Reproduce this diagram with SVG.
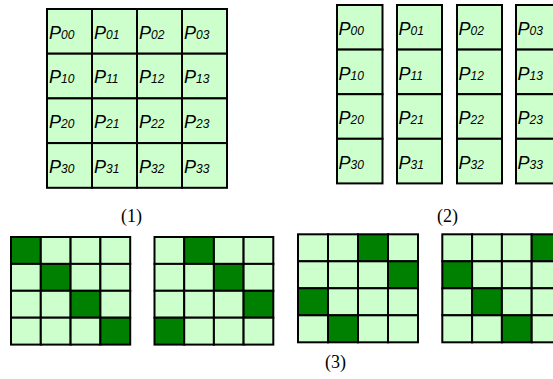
<svg xmlns="http://www.w3.org/2000/svg" width="553" height="379" viewBox="0 0 553 379">
<style>
.c{fill:#ccffcc;stroke:#000;stroke-width:2}
.d{fill:#008000;stroke:#000;stroke-width:2}
.p{font-family:"Liberation Sans",Arial,sans-serif;font-style:italic;font-size:18px;fill:#000}
.s{font-size:12px}
.l{font-family:"Liberation Serif","Times New Roman",serif;font-size:18px;fill:#000}
</style>
<rect width="553" height="379" fill="#fff"/>
<g id="grid1">
<g id="g1-00"><rect class="c" x="47" y="9" width="45" height="44.7"/><text class="p" x="49" y="38.5">P<tspan class="s">00</tspan></text></g>
<g id="g1-01"><rect class="c" x="92" y="9" width="45" height="44.7"/><text class="p" x="94" y="38.5">P<tspan class="s">01</tspan></text></g>
<g id="g1-02"><rect class="c" x="137" y="9" width="45" height="44.7"/><text class="p" x="139" y="38.5">P<tspan class="s">02</tspan></text></g>
<g id="g1-03"><rect class="c" x="182" y="9" width="45" height="44.7"/><text class="p" x="184" y="38.5">P<tspan class="s">03</tspan></text></g>
<g id="g1-10"><rect class="c" x="47" y="53.7" width="45" height="44.7"/><text class="p" x="49" y="83.2">P<tspan class="s">10</tspan></text></g>
<g id="g1-11"><rect class="c" x="92" y="53.7" width="45" height="44.7"/><text class="p" x="94" y="83.2">P<tspan class="s">11</tspan></text></g>
<g id="g1-12"><rect class="c" x="137" y="53.7" width="45" height="44.7"/><text class="p" x="139" y="83.2">P<tspan class="s">12</tspan></text></g>
<g id="g1-13"><rect class="c" x="182" y="53.7" width="45" height="44.7"/><text class="p" x="184" y="83.2">P<tspan class="s">13</tspan></text></g>
<g id="g1-20"><rect class="c" x="47" y="98.4" width="45" height="44.7"/><text class="p" x="49" y="127.9">P<tspan class="s">20</tspan></text></g>
<g id="g1-21"><rect class="c" x="92" y="98.4" width="45" height="44.7"/><text class="p" x="94" y="127.9">P<tspan class="s">21</tspan></text></g>
<g id="g1-22"><rect class="c" x="137" y="98.4" width="45" height="44.7"/><text class="p" x="139" y="127.9">P<tspan class="s">22</tspan></text></g>
<g id="g1-23"><rect class="c" x="182" y="98.4" width="45" height="44.7"/><text class="p" x="184" y="127.9">P<tspan class="s">23</tspan></text></g>
<g id="g1-30"><rect class="c" x="47" y="143.1" width="45" height="44.7"/><text class="p" x="49" y="172.6">P<tspan class="s">30</tspan></text></g>
<g id="g1-31"><rect class="c" x="92" y="143.1" width="45" height="44.7"/><text class="p" x="94" y="172.6">P<tspan class="s">31</tspan></text></g>
<g id="g1-32"><rect class="c" x="137" y="143.1" width="45" height="44.7"/><text class="p" x="139" y="172.6">P<tspan class="s">32</tspan></text></g>
<g id="g1-33"><rect class="c" x="182" y="143.1" width="45" height="44.7"/><text class="p" x="184" y="172.6">P<tspan class="s">33</tspan></text></g>
</g>
<g id="grid2">
<g id="g2-col0">
<rect class="c" x="337" y="5" width="45.5" height="44.6"/><text class="p" x="338.5" y="35">P<tspan class="s">00</tspan></text>
<rect class="c" x="337" y="49.6" width="45.5" height="44.6"/><text class="p" x="338.5" y="79.6">P<tspan class="s">10</tspan></text>
<rect class="c" x="337" y="94.2" width="45.5" height="44.6"/><text class="p" x="338.5" y="124.2">P<tspan class="s">20</tspan></text>
<rect class="c" x="337" y="138.8" width="45.5" height="44.6"/><text class="p" x="338.5" y="168.8">P<tspan class="s">30</tspan></text>
</g>
<g id="g2-col1">
<rect class="c" x="397" y="5" width="45" height="44.6"/><text class="p" x="398.5" y="35">P<tspan class="s">01</tspan></text>
<rect class="c" x="397" y="49.6" width="45" height="44.6"/><text class="p" x="398.5" y="79.6">P<tspan class="s">11</tspan></text>
<rect class="c" x="397" y="94.2" width="45" height="44.6"/><text class="p" x="398.5" y="124.2">P<tspan class="s">21</tspan></text>
<rect class="c" x="397" y="138.8" width="45" height="44.6"/><text class="p" x="398.5" y="168.8">P<tspan class="s">31</tspan></text>
</g>
<g id="g2-col2">
<rect class="c" x="457" y="5" width="45" height="44.6"/><text class="p" x="458.5" y="35">P<tspan class="s">02</tspan></text>
<rect class="c" x="457" y="49.6" width="45" height="44.6"/><text class="p" x="458.5" y="79.6">P<tspan class="s">12</tspan></text>
<rect class="c" x="457" y="94.2" width="45" height="44.6"/><text class="p" x="458.5" y="124.2">P<tspan class="s">22</tspan></text>
<rect class="c" x="457" y="138.8" width="45" height="44.6"/><text class="p" x="458.5" y="168.8">P<tspan class="s">32</tspan></text>
</g>
<g id="g2-col3">
<rect class="c" x="516" y="5" width="45" height="44.6"/><text class="p" x="517.5" y="35">P<tspan class="s">03</tspan></text>
<rect class="c" x="516" y="49.6" width="45" height="44.6"/><text class="p" x="517.5" y="79.6">P<tspan class="s">13</tspan></text>
<rect class="c" x="516" y="94.2" width="45" height="44.6"/><text class="p" x="517.5" y="124.2">P<tspan class="s">23</tspan></text>
<rect class="c" x="516" y="138.8" width="45" height="44.6"/><text class="p" x="517.5" y="168.8">P<tspan class="s">33</tspan></text>
</g>
</g>
<g id="grid3a">
<rect class="d" x="11" y="237" width="29.8" height="26.9"/><rect class="c" x="40.8" y="237" width="29.8" height="26.9"/><rect class="c" x="70.6" y="237" width="29.8" height="26.9"/><rect class="c" x="100.4" y="237" width="29.8" height="26.9"/>
<rect class="c" x="11" y="263.9" width="29.8" height="26.9"/><rect class="d" x="40.8" y="263.9" width="29.8" height="26.9"/><rect class="c" x="70.6" y="263.9" width="29.8" height="26.9"/><rect class="c" x="100.4" y="263.9" width="29.8" height="26.9"/>
<rect class="c" x="11" y="290.8" width="29.8" height="26.9"/><rect class="c" x="40.8" y="290.8" width="29.8" height="26.9"/><rect class="d" x="70.6" y="290.8" width="29.8" height="26.9"/><rect class="c" x="100.4" y="290.8" width="29.8" height="26.9"/>
<rect class="c" x="11" y="317.7" width="29.8" height="26.9"/><rect class="c" x="40.8" y="317.7" width="29.8" height="26.9"/><rect class="c" x="70.6" y="317.7" width="29.8" height="26.9"/><rect class="d" x="100.4" y="317.7" width="29.8" height="26.9"/>
</g>
<g id="grid3b">
<rect class="c" x="154.5" y="237" width="29.7" height="26.9"/><rect class="d" x="184.2" y="237" width="29.7" height="26.9"/><rect class="c" x="213.9" y="237" width="29.7" height="26.9"/><rect class="c" x="243.6" y="237" width="29.7" height="26.9"/>
<rect class="c" x="154.5" y="263.9" width="29.7" height="26.9"/><rect class="c" x="184.2" y="263.9" width="29.7" height="26.9"/><rect class="d" x="213.9" y="263.9" width="29.7" height="26.9"/><rect class="c" x="243.6" y="263.9" width="29.7" height="26.9"/>
<rect class="c" x="154.5" y="290.8" width="29.7" height="26.9"/><rect class="c" x="184.2" y="290.8" width="29.7" height="26.9"/><rect class="c" x="213.9" y="290.8" width="29.7" height="26.9"/><rect class="d" x="243.6" y="290.8" width="29.7" height="26.9"/>
<rect class="d" x="154.5" y="317.7" width="29.7" height="26.9"/><rect class="c" x="184.2" y="317.7" width="29.7" height="26.9"/><rect class="c" x="213.9" y="317.7" width="29.7" height="26.9"/><rect class="c" x="243.6" y="317.7" width="29.7" height="26.9"/>
</g>
<g id="grid3c">
<rect class="c" x="298" y="234.3" width="30" height="27"/><rect class="c" x="328" y="234.3" width="30" height="27"/><rect class="d" x="358" y="234.3" width="30" height="27"/><rect class="c" x="388" y="234.3" width="30" height="27"/>
<rect class="c" x="298" y="261.3" width="30" height="27"/><rect class="c" x="328" y="261.3" width="30" height="27"/><rect class="c" x="358" y="261.3" width="30" height="27"/><rect class="d" x="388" y="261.3" width="30" height="27"/>
<rect class="d" x="298" y="288.3" width="30" height="27"/><rect class="c" x="328" y="288.3" width="30" height="27"/><rect class="c" x="358" y="288.3" width="30" height="27"/><rect class="c" x="388" y="288.3" width="30" height="27"/>
<rect class="c" x="298" y="315.3" width="30" height="27"/><rect class="d" x="328" y="315.3" width="30" height="27"/><rect class="c" x="358" y="315.3" width="30" height="27"/><rect class="c" x="388" y="315.3" width="30" height="27"/>
</g>
<g id="grid3d">
<rect class="c" x="442.3" y="234.3" width="29.8" height="27"/><rect class="c" x="472.1" y="234.3" width="29.8" height="27"/><rect class="c" x="501.9" y="234.3" width="29.8" height="27"/><rect class="d" x="531.7" y="234.3" width="29.8" height="27"/>
<rect class="d" x="442.3" y="261.3" width="29.8" height="27"/><rect class="c" x="472.1" y="261.3" width="29.8" height="27"/><rect class="c" x="501.9" y="261.3" width="29.8" height="27"/><rect class="c" x="531.7" y="261.3" width="29.8" height="27"/>
<rect class="c" x="442.3" y="288.3" width="29.8" height="27"/><rect class="d" x="472.1" y="288.3" width="29.8" height="27"/><rect class="c" x="501.9" y="288.3" width="29.8" height="27"/><rect class="c" x="531.7" y="288.3" width="29.8" height="27"/>
<rect class="c" x="442.3" y="315.3" width="29.8" height="27"/><rect class="c" x="472.1" y="315.3" width="29.8" height="27"/><rect class="d" x="501.9" y="315.3" width="29.8" height="27"/><rect class="c" x="531.7" y="315.3" width="29.8" height="27"/>
</g>
<g id="labels">
<text class="l" x="121" y="222">(1)</text>
<text class="l" x="437" y="222">(2)</text>
<text class="l" x="325" y="368">(3)</text>
</g>
</svg>
